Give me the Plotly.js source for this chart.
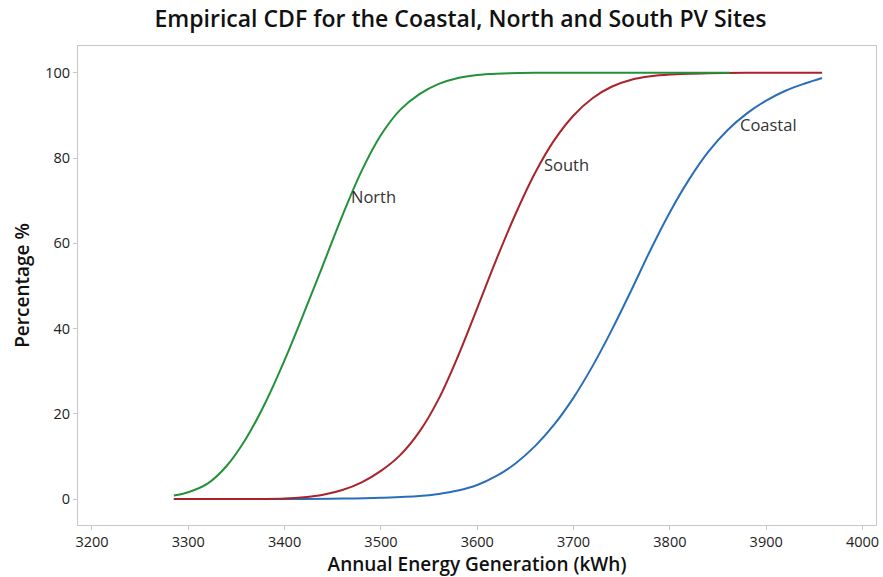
<!DOCTYPE html>
<html>
<head>
<meta charset="utf-8">
<script src="https://cdn.plot.ly/plotly-3.0.1.min.js"></script>
<style>html,body{margin:0;padding:0;background:#fff;}#chart{width:883px;height:577px;}</style>
</head>
<body>
<div id="chart"></div>
<script>
const northX = [3285, 3300, 3320, 3340, 3360, 3380, 3400, 3420, 3440, 3460, 3480, 3500, 3520, 3540, 3560, 3580, 3600, 3620, 3660, 3720, 3862];
const northY = [0.8, 1.6, 3.6, 7.8, 14.2, 22.6, 32.6, 43.6, 55, 66.5, 77, 85.4, 91.3, 95, 97.4, 98.8, 99.5, 99.8, 100, 100, 100];

const southX = [3285, 3380, 3400, 3420, 3440, 3460, 3480, 3500, 3520, 3540, 3560, 3580, 3600, 3620, 3640, 3660, 3680, 3700, 3720, 3740, 3760, 3780, 3800, 3840, 3880, 3958];
const southY = [0, 0, 0.1, 0.4, 1, 2.1, 3.9, 6.6, 10.3, 15.8, 23.5, 33.5, 44.8, 56.3, 67, 76.5, 84.2, 90, 94.1, 96.8, 98.4, 99.2, 99.6, 99.9, 100, 100];

const coastalX = [3285, 3420, 3460, 3500, 3540, 3560, 3580, 3600, 3620, 3640, 3660, 3680, 3700, 3720, 3740, 3760, 3780, 3800, 3820, 3840, 3860, 3880, 3900, 3920, 3940, 3958];
const coastalY = [0, 0, 0.1, 0.3, 0.7, 1.2, 2, 3.3, 5.4, 8.4, 12.4, 17.5, 23.8, 31.3, 39.8, 49, 58.5, 67.3, 75, 81.5, 86.6, 90.5, 93.5, 95.8, 97.5, 98.8];

const labelNames = ["North", "South", "Coastal"];
const labelX = [3467, 3667, 3871];
const labelY = [71, 78.6, 87.8];

const xTicks = [3200, 3300, 3400, 3500, 3600, 3700, 3800, 3900, 4000];
const yTicks = [0, 20, 40, 60, 80, 100];

const traces = [
  {x: coastalX, y: coastalY, mode: 'lines', name: 'Coastal', line: {color: '#2a6ebb', width: 2, shape: 'spline', smoothing: 1}},
  {x: southX, y: southY, mode: 'lines', name: 'South', line: {color: '#a8232a', width: 2, shape: 'spline', smoothing: 1}},
  {x: northX, y: northY, mode: 'lines', name: 'North', line: {color: '#22913a', width: 2, shape: 'spline', smoothing: 1}}
];

const annotations = labelNames.map((t, i) => ({
  x: labelX[i], y: labelY[i], text: t, showarrow: false,
  xanchor: 'left', yanchor: 'middle',
  font: {family: 'Open Sans, sans-serif', size: 16.5, color: '#333'}
}));

const layout = {
  width: 883, height: 577,
  margin: {l: 78, r: 7, t: 46, b: 52},
  paper_bgcolor: '#fff', plot_bgcolor: '#fff',
  showlegend: false,
  title: {text: 'Empirical CDF for the Coastal, North and South PV Sites',
    x: 0.5215, xanchor: 'center', y: 0.968, yanchor: 'middle',
    font: {family: 'Open Sans, sans-serif', size: 23, color: '#111', weight: 600}},
  xaxis: {
    range: [3185.5, 4014], tickvals: xTicks, ticktext: xTicks.map(String),
    showgrid: false, zeroline: false, showline: true, linecolor: '#c8c8c8', linewidth: 1, mirror: true,
    ticks: 'outside', ticklen: 4, tickcolor: '#c8c8c8',
    tickfont: {family: 'Open Sans, sans-serif', size: 14.5, color: '#222'},
    title: {text: 'Annual Energy Generation (kWh)', standoff: 10,
      font: {family: 'Open Sans, sans-serif', size: 19, color: '#111', weight: 600}}
  },
  yaxis: {
    range: [-6.1, 106.3], tickvals: yTicks, ticktext: yTicks.map(String),
    showgrid: false, zeroline: false, showline: true, linecolor: '#c8c8c8', linewidth: 1, mirror: true,
    ticks: 'outside', ticklen: 4, tickcolor: '#c8c8c8',
    tickfont: {family: 'Open Sans, sans-serif', size: 14.5, color: '#222'},
    title: {text: 'Percentage %', standoff: 10,
      font: {family: 'Open Sans, sans-serif', size: 19, color: '#111', weight: 600}}
  },
  annotations: annotations
};

Plotly.newPlot('chart', traces, layout, {displayModeBar: false, staticPlot: true});
</script>
</body>
</html>
